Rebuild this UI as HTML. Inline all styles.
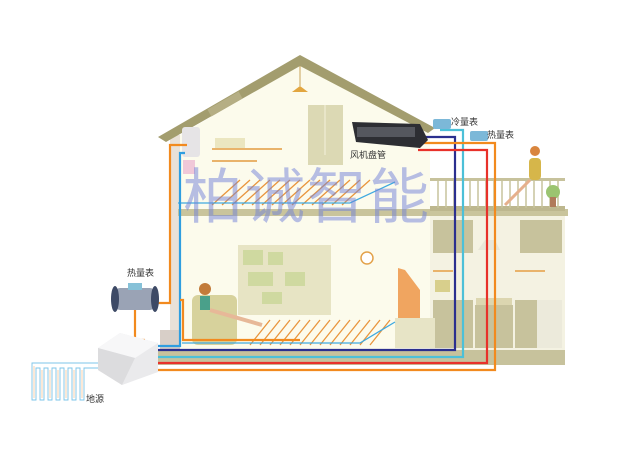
<!DOCTYPE html>
<html><head><meta charset="utf-8"><style>
html,body{margin:0;padding:0;background:#fff;}
svg{display:block}
text{font-family:"Liberation Sans","Noto Sans CJK SC",sans-serif;}
</style></head><body>
<svg width="620" height="450" viewBox="0 0 620 450" xmlns="http://www.w3.org/2000/svg">
<rect width="620" height="450" fill="#fff"/>
<polygon points="180,135 300,65 430,130 430,350 180,350" fill="#fcfbec"/>
<rect x="430" y="213" width="135" height="137" fill="#f4f2e2"/>
<rect x="170" y="135" width="10" height="215" fill="#e9e1d8"/>
<rect x="160" y="330" width="20" height="25" fill="#d8cfc8"/>
<polygon points="158,137 300,55 435,128 428,133 300,66 166,142" fill="#a39d6e"/>
<rect x="207" y="100" width="36" height="8" fill="#b5ae84" transform="rotate(-30 225 104)"/>
<line x1="300" y1="66" x2="300" y2="86" stroke="#c9a35a"/>
<polygon points="292,92 308,92 300,86" fill="#e2a640"/>
<rect x="308" y="105" width="35" height="60" fill="#dcd9b4"/>
<line x1="325" y1="105" x2="325" y2="155" stroke="#f3f1dc"/>
<rect x="212" y="148" width="70" height="2" fill="#e9b36b"/>
<rect x="215" y="138" width="30" height="10" fill="#ebe6c0"/>
<rect x="212" y="160" width="45" height="2" fill="#e9b36b"/>
<rect x="182" y="127" width="18" height="30" rx="3" fill="#e6e4e6"/>
<rect x="183" y="160" width="12" height="14" fill="#f0c8d8"/>
<rect x="178" y="209" width="390" height="7" fill="#c9c49c"/>
<rect x="430" y="206" width="135" height="5" fill="#bdb78e"/>
<rect x="430" y="178" width="135" height="3" fill="#c7c29c"/>
<g stroke="#c7c29c" stroke-width="1.5">
<line x1="438" y1="180" x2="438" y2="208"/><line x1="446" y1="180" x2="446" y2="208"/><line x1="454" y1="180" x2="454" y2="208"/>
<line x1="470" y1="180" x2="470" y2="208"/><line x1="478" y1="180" x2="478" y2="208"/><line x1="486" y1="180" x2="486" y2="208"/>
<line x1="494" y1="180" x2="494" y2="208"/><line x1="502" y1="180" x2="502" y2="208"/><line x1="510" y1="180" x2="510" y2="208"/>
<line x1="518" y1="180" x2="518" y2="208"/><line x1="526" y1="180" x2="526" y2="208"/><line x1="534" y1="180" x2="534" y2="208"/>
<line x1="542" y1="180" x2="542" y2="208"/><line x1="550" y1="180" x2="550" y2="208"/><line x1="558" y1="180" x2="558" y2="208"/>
</g>
<circle cx="535" cy="151" r="5" fill="#d9853e"/>
<rect x="529" y="158" width="12" height="22" rx="4" fill="#d6b64a"/>
<line x1="530" y1="180" x2="505" y2="205" stroke="#e6b08c" stroke-width="3"/>
<circle cx="553" cy="192" r="7" fill="#9bc470"/>
<rect x="550" y="197" width="6" height="10" fill="#b07a5a"/>
<rect x="433" y="220" width="40" height="33" fill="#c7c29c"/>
<rect x="520" y="220" width="42" height="33" fill="#c7c29c"/>
<polygon points="478,250 500,250 495,240 485,240" fill="#e8e6d8"/>
<rect x="433" y="300" width="40" height="48" fill="#c7c29c"/>
<rect x="475" y="305" width="38" height="43" fill="#c7c29c"/>
<rect x="476" y="298" width="36" height="7" fill="#dcd6b0"/>
<rect x="515" y="300" width="22" height="48" fill="#c7c29c"/>
<rect x="537" y="300" width="25" height="48" fill="#eceadb"/>
<rect x="433" y="270" width="20" height="2" fill="#e9b36b"/>
<rect x="515" y="270" width="30" height="2" fill="#e9b36b"/>
<rect x="435" y="280" width="15" height="12" fill="#d8cf8c"/>
<rect x="238" y="245" width="93" height="70" fill="#e7e4c4"/>
<g fill="#cfd9a0"><rect x="243" y="250" width="20" height="15"/><rect x="268" y="252" width="15" height="13"/><rect x="248" y="272" width="25" height="14"/><rect x="285" y="272" width="20" height="14"/><rect x="262" y="292" width="20" height="12"/></g>
<circle cx="367" cy="258" r="6" fill="#fff" stroke="#e3a24a" stroke-width="1.5"/>
<polygon points="398,268 405,270 420,290 420,320 398,322" fill="#f0a560"/>
<rect x="395" y="318" width="40" height="30" fill="#e7e4c6"/>
<rect x="192" y="295" width="45" height="50" rx="6" fill="#d7d29c"/>
<circle cx="205" cy="289" r="6" fill="#c27b3a"/>
<rect x="200" y="296" width="10" height="14" fill="#4aa08a"/>
<line x1="210" y1="310" x2="262" y2="325" stroke="#e7b898" stroke-width="4"/>
<g stroke="#e9953c" stroke-width="1.3">
<path d="M212,205 L240,180 M222,205 L250,180 M232,205 L260,180 M242,205 L270,180 M252,205 L280,180 M262,205 L290,180 M272,205 L300,180 M282,205 L310,180 M292,205 L320,180 M302,205 L330,180 M312,205 L340,180 M322,205 L350,180 M332,205 L360,180 M342,205 L370,180"/>
<path d="M250,345 L270,320 M260,345 L280,320 M270,345 L290,320 M280,345 L300,320 M290,345 L310,320 M300,345 L320,320 M310,345 L330,320 M320,345 L340,320 M330,345 L350,320 M340,345 L360,320 M350,345 L370,320 M360,345 L380,320 M370,345 L390,320"/>
</g>
<polyline points="178,203 350,203 395,182" fill="none" stroke="#3fa9e0" stroke-width="1.3"/>
<polyline points="182,343 360,343 395,322" fill="none" stroke="#3fa9e0" stroke-width="1.3"/>
<rect x="152" y="350" width="413" height="15" fill="#c7c29c"/>
<g fill="none" stroke-width="2.2">
<polyline points="187,145 170,145 170,303 158,303" stroke="#f28a1e"/>
<polyline points="185,153 180,153 180,346 152,346" stroke="#2f9ee0"/>
<polyline points="180,300 183,300 183,340 300,340" stroke="#f28a1e"/>
<polyline points="418,137 455,137 455,350 152,350" stroke="#2b2f8f"/>
<polyline points="440,130 463,130 463,357 152,357" stroke="#4cc0d8"/>
<polyline points="418,150 487,150 487,363 152,363" stroke="#e8312a"/>
<polyline points="418,143 495,143 495,370 152,370" stroke="#f28a1e"/>
<polyline points="135,300 135,340 145,340" stroke="#f28a1e"/>
</g>
<polygon points="352,122 420,124 428,140 420,148 356,142" fill="#2d2e33"/>
<rect x="357" y="127" width="58" height="10" fill="#55575e"/>
<rect x="433" y="119" width="18" height="10" rx="2" fill="#7cb8d8"/>
<rect x="470" y="131" width="18" height="10" rx="2" fill="#7cb8d8"/>
<rect x="115" y="288" width="40" height="22" rx="5" fill="#9aa3b5"/>
<ellipse cx="115" cy="299" rx="4" ry="13" fill="#3d4a66"/>
<ellipse cx="155" cy="299" rx="4" ry="13" fill="#3d4a66"/>
<rect x="128" y="283" width="14" height="7" fill="#86c1d8"/>
<polygon points="98,348 120,333 158,343 158,372 122,385 98,370" fill="#eaeaec"/>
<polygon points="98,348 120,333 158,343 135,358" fill="#f7f7f8"/>
<polygon points="98,348 135,358 122,385 98,370" fill="#dcdcde"/>
<path d="M98,363 L32,363 L32,400 L36,400 L36,368 L40,368 L40,400 L44,400 L44,368 L48,368 L48,400 L52,400 L52,368 L56,368 L56,400 L60,400 L60,368 L64,368 L64,400 L68,400 L68,368 L72,368 L72,400 L76,400 L76,368 L80,368 L80,400 L84,400 L84,368 L98,368" fill="none" stroke="#7cc4e8" stroke-width="0.9"/>
<path d="M34,366 L34,398 M42,370 L42,398 M50,370 L50,398 M58,370 L58,398 M66,370 L66,398 M74,370 L74,398 M82,370 L82,398" stroke="#f2b27a" stroke-width="0.6"/>
<text x="183" y="218" font-size="60" fill="#6f7fd8" fill-opacity="0.5" font-family="'Noto Sans CJK SC',sans-serif" letter-spacing="2">柏诚智能</text>
<g font-size="9" fill="#333">
<text x="350" y="158">风机盘管</text>
<text x="451" y="125">冷量表</text>
<text x="487" y="138">热量表</text>
<text x="127" y="276">热量表</text>
<text x="86" y="402">地源</text>
</g>
</svg>
</body></html>
